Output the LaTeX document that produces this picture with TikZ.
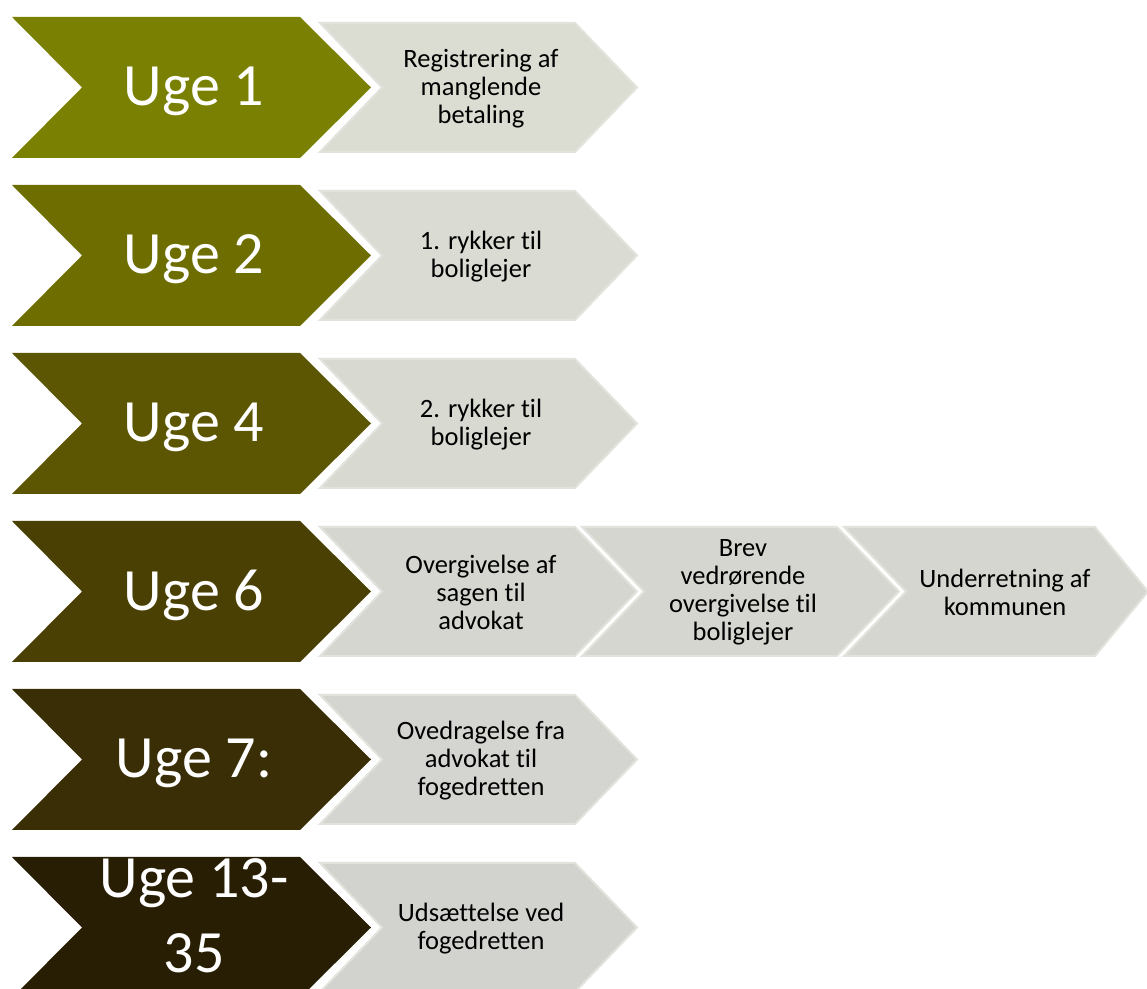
\documentclass[tikz,border=0pt]{standalone}
\usepackage{fontspec}
\setmainfont{Carlito}[Ligatures=NoCommon]
\definecolor{weekA}{RGB}{122,128,2}
\definecolor{weekB}{RGB}{110,110,0}
\definecolor{weekC}{RGB}{92,85,2}
\definecolor{weekD}{RGB}{75,64,4}
\definecolor{weekE}{RGB}{58,46,6}
\definecolor{weekF}{RGB}{40,30,4}
\definecolor{stepA}{RGB}{220,221,210}
\definecolor{stepB}{RGB}{218,219,210}
\definecolor{stepC}{RGB}{216,217,209}
\definecolor{stepD}{RGB}{214,214,208}
\definecolor{stepE}{RGB}{212,212,208}
\definecolor{stepF}{RGB}{210,210,207}
\definecolor{stepedge}{RGB}{226,227,220}
\begin{document}
\begin{tikzpicture}[>=latex,line join=miter,
  weeklabel/.style={text=white,font=\fontsize{60bp}{75bp}\selectfont,align=center,inner sep=0pt,yshift=-4bp},
  steplabel/.style={text=black,font=\fontsize{26.5bp}{28bp}\selectfont,align=center,inner sep=0pt,yshift=-1bp},
  stepbox/.style={draw=stepedge,line width=2bp}]
  \clip (0bp,0bp) rectangle (1147bp,989bp);
%%
  % Node: uge1
  \fill [weekA] (12bp,972bp) -- (300bp,972bp) -- (371bp,901.5bp) -- (300bp,831bp) -- (12bp,831bp) -- (82bp,901.5bp) -- cycle;
  \node [weeklabel] (uge1) at (194bp,901.5bp) {Uge 1};
  % Node: registrering
  \filldraw [stepbox,fill=stepA] (320bp,966bp) -- (575bp,966bp) -- (637bp,901.5bp) -- (575bp,837bp) -- (320bp,837bp) -- (382bp,901.5bp) -- cycle;
  \node [steplabel] (registrering) at (481bp,901.5bp) {Registrering af\\manglende\\betaling};
%%
  % Node: uge2
  \fill [weekB] (12bp,804bp) -- (300bp,804bp) -- (371bp,733.5bp) -- (300bp,663bp) -- (12bp,663bp) -- (82bp,733.5bp) -- cycle;
  \node [weeklabel] (uge2) at (194bp,733.5bp) {Uge 2};
  % Node: rykker1
  \filldraw [stepbox,fill=stepB] (320bp,798bp) -- (575bp,798bp) -- (637bp,733.5bp) -- (575bp,669bp) -- (320bp,669bp) -- (382bp,733.5bp) -- cycle;
  \node [steplabel] (rykker1) at (481bp,733.5bp) {1. rykker til\\boliglejer};
%%
  % Node: uge4
  \fill [weekC] (12bp,636bp) -- (300bp,636bp) -- (371bp,565.5bp) -- (300bp,495bp) -- (12bp,495bp) -- (82bp,565.5bp) -- cycle;
  \node [weeklabel] (uge4) at (194bp,565.5bp) {Uge 4};
  % Node: rykker2
  \filldraw [stepbox,fill=stepC] (320bp,630bp) -- (575bp,630bp) -- (637bp,565.5bp) -- (575bp,501bp) -- (320bp,501bp) -- (382bp,565.5bp) -- cycle;
  \node [steplabel] (rykker2) at (481bp,565.5bp) {2. rykker til\\boliglejer};
%%
  % Node: uge6
  \fill [weekD] (12bp,468bp) -- (300bp,468bp) -- (371bp,397.5bp) -- (300bp,327bp) -- (12bp,327bp) -- (82bp,397.5bp) -- cycle;
  \node [weeklabel] (uge6) at (194bp,397.5bp) {Uge 6};
  % Node: overgivelse
  \filldraw [stepbox,fill=stepD] (320bp,462bp) -- (575bp,462bp) -- (637bp,397.5bp) -- (575bp,333bp) -- (320bp,333bp) -- (382bp,397.5bp) -- cycle;
  \node [steplabel] (overgivelse) at (481bp,397.5bp) {Overgivelse af\\sagen til\\advokat};
  % Node: brev
  \filldraw [stepbox,fill=stepD] (582bp,462bp) -- (837bp,462bp) -- (899bp,397.5bp) -- (837bp,333bp) -- (582bp,333bp) -- (644bp,397.5bp) -- cycle;
  \node [steplabel] (brev) at (743bp,397.5bp) {Brev\\vedrørende\\overgivelse til\\boliglejer};
  % Node: kommune
  \filldraw [stepbox,fill=stepD] (844bp,462bp) -- (1095bp,462bp) -- (1148bp,397.5bp) -- (1095bp,333bp) -- (844bp,333bp) -- (906bp,397.5bp) -- cycle;
  \node [steplabel] (kommune) at (1005bp,397.5bp) {Underretning af\\kommunen};
%%
  % Node: uge7
  \fill [weekE] (12bp,300bp) -- (300bp,300bp) -- (371bp,229.5bp) -- (300bp,159bp) -- (12bp,159bp) -- (82bp,229.5bp) -- cycle;
  \node [weeklabel] (uge7) at (194bp,229.5bp) {Uge 7:};
  % Node: ovedragelse
  \filldraw [stepbox,fill=stepE] (320bp,294bp) -- (575bp,294bp) -- (637bp,229.5bp) -- (575bp,165bp) -- (320bp,165bp) -- (382bp,229.5bp) -- cycle;
  \node [steplabel] (ovedragelse) at (481bp,229.5bp) {Ovedragelse fra\\advokat til\\fogedretten};
%%
  % Node: uge13
  \fill [weekF] (12bp,132bp) -- (300bp,132bp) -- (371bp,61.5bp) -- (300bp,-9bp) -- (12bp,-9bp) -- (82bp,61.5bp) -- cycle;
  \node [weeklabel,yshift=4bp] (uge13) at (194bp,73bp) {Uge 13-\\35};
  % Node: udsaettelse
  \filldraw [stepbox,fill=stepF] (320bp,126bp) -- (575bp,126bp) -- (637bp,61.5bp) -- (575bp,-3bp) -- (320bp,-3bp) -- (382bp,61.5bp) -- cycle;
  \node [steplabel] (udsaettelse) at (481bp,61.5bp) {Udsættelse ved\\fogedretten};
%
\end{tikzpicture}
\end{document}
